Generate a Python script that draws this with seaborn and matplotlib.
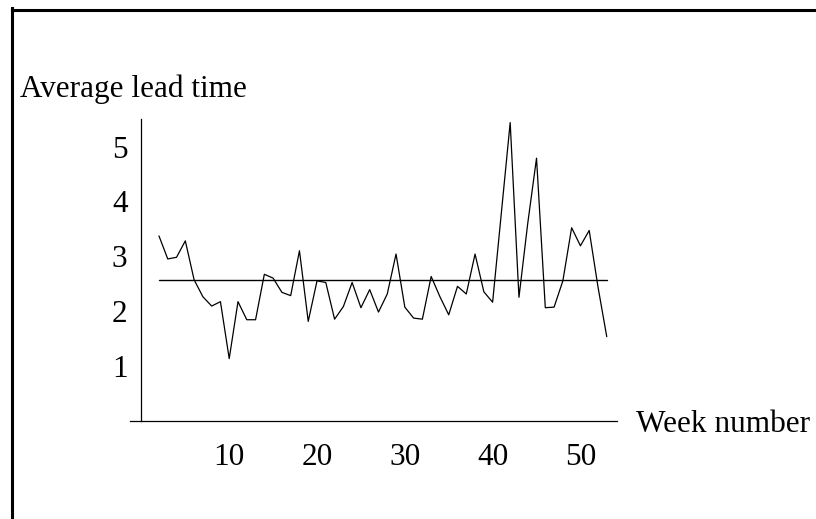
import matplotlib
matplotlib.use("Agg")
import matplotlib.pyplot as plt
from matplotlib.lines import Line2D
import numpy as np
import pandas as pd
import seaborn as sns

# Weekly average lead time, weeks 2 to 53
weeks = list(range(2, 54))
lead_time = [
    3.37, 2.95, 2.98, 3.28, 2.57, 2.26, 2.09, 2.17, 1.13, 2.17,
    1.84, 1.84, 2.67, 2.60, 2.34, 2.28, 3.10, 1.81, 2.55, 2.52,
    1.85, 2.08, 2.52, 2.06, 2.39, 1.98, 2.31, 3.04, 2.07, 1.87,
    1.85, 2.63, 2.26, 1.93, 2.45, 2.31, 3.04, 2.35, 2.16, 3.80,
    5.44, 2.25, 3.60, 4.79, 2.06, 2.07, 2.55, 3.52, 3.19, 3.47,
    2.44, 1.53,
]
mean_lead_time = 2.565

x_ticks = [10, 20, 30, 40, 50]
y_ticks = [1, 2, 3, 4, 5]
x_label = "Week number"
y_label = "Average lead time"

df = pd.DataFrame({"week": weeks, "lead": lead_time})
df_mean = pd.DataFrame({"week": [weeks[0], weeks[-1]],
                        "lead": [mean_lead_time, mean_lead_time]})

sns.set_theme(style="white")
plt.rcParams["font.family"] = ["Liberation Serif", "DejaVu Serif"]
plt.rcParams["text.color"] = "black"

FS = 22.5
W, H = 816, 519
fig = plt.figure(figsize=(W / 100, H / 100), dpi=100)
ax = fig.add_axes([130 / W, 1 - 420.5 / H, (617.3 - 130) / W, (420.5 - 119.3) / H])

sns.lineplot(data=df, x="week", y="lead", ax=ax, color="black", linewidth=0.9)
sns.lineplot(data=df_mean, x="week", y="lead", ax=ax, color="black", linewidth=1.0)

ax.set_xlim(-1.3, 54.2)
ax.set_ylim(0, 5.5)
ax.set_xlabel("")
ax.set_ylabel("")

for side in ("top", "right"):
    ax.spines[side].set_visible(False)
ax.spines["left"].set_position(("data", 0))
ax.spines["bottom"].set_position(("data", 0))
for side in ("left", "bottom"):
    ax.spines[side].set_color("black")
    ax.spines[side].set_linewidth(0.9)

ax.set_xticks(x_ticks)
ax.set_yticks(y_ticks)
ax.set_xticklabels([str(t) for t in x_ticks])
ax.set_yticklabels([str(t) for t in y_ticks])
ax.tick_params(axis="both", direction="in", length=4, width=0.8, color="black",
               labelsize=FS, labelcolor="black")
ax.tick_params(axis="x", pad=16)
ax.tick_params(axis="y", pad=10)
ax.grid(False)

fig.text(636 / W, 1 - 432 / H, x_label, fontsize=FS, color="black",
         ha="left", va="baseline")
fig.text(20.5 / W, 1 - 97 / H, y_label, fontsize=FS, color="black",
         ha="left", va="baseline")

# Frame lines along the left and top edges
fig.add_artist(Line2D([11.5 / W, 11.5 / W], [0, 1 - 8 / H], transform=fig.transFigure,
                      color="black", linewidth=2.2, solid_capstyle="projecting"))
fig.add_artist(Line2D([11.5 / W, 1], [1 - 9.5 / H, 1 - 9.5 / H], transform=fig.transFigure,
                      color="black", linewidth=2.2, solid_capstyle="projecting"))

fig.savefig("out.png", dpi=100, facecolor="white")
